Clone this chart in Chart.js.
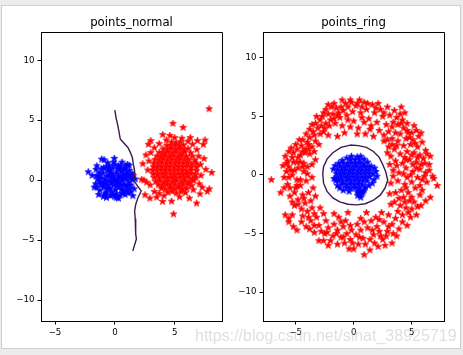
<!DOCTYPE html>
<html><head><meta charset="utf-8">
<script src="https://cdn.jsdelivr.net/npm/chart.js@4.4.0/dist/chart.umd.min.js"></script>
<style>
html,body{margin:0;padding:0;width:463px;height:355px;overflow:hidden;background:#ececec;}
#frame{position:absolute;left:1px;top:5px;width:458px;height:342px;background:#fff;border:1px solid #cfcfcf;}
canvas{position:absolute;top:0;}
#c1{left:0}
#c2{left:232px}
#wm{position:absolute;left:195px;top:327px;font:16px "Liberation Sans",Arial,sans-serif;color:rgba(185,185,185,0.45);white-space:nowrap;pointer-events:none;}
</style></head><body>
<div id="frame"></div>
<canvas id="c1" width="232" height="355"></canvas>
<canvas id="c2" width="231" height="355"></canvas>
<div id="wm">https://blog.csdn.net/sinat_38925719</div>
<script>
const titles = ["points_normal", "points_ring"];
const xTicks = [-5, 0, 5];
const yTicks = [-10, -5, 0, 5, 10];

const normalBlue = [
[0.02,0.05],[-0.31,0.22],[0.28,-0.18],[-0.12,-0.41],[0.45,0.33],[-0.52,-0.08],[0.15,0.61],[-0.25,0.55],[0.62,-0.05],[-0.68,0.35],
[0.35,-0.58],[-0.41,-0.66],[0.05,-0.78],[0.81,0.22],[-0.85,-0.21],[0.55,0.72],[-0.6,0.78],[0.9,-0.45],[-0.95,-0.6],[0.22,0.95],
[-0.18,1.02],[1.05,0.5],[-1.08,0.2],[0.68,-0.92],[-0.72,-0.98],[0.1,-1.12],[1.15,-0.15],[-1.2,-0.32],[0.88,0.95],[-0.92,1.05],
[0.48,1.18],[-0.45,1.2],[1.22,0.82],[-1.3,0.62],[1.25,-0.7],[-1.25,-0.85],[0.42,-1.25],[-0.35,-1.3],[0.85,-1.2],[-0.82,-1.28],
[0.0,1.3],[1.38,0.25],[-1.42,0.05],[0.0,-1.38],[0.3,0.3],[-0.3,-0.25],[0.6,0.1],[-0.6,-0.4],[0.2,-0.45],[-0.1,0.35],
[0.75,-0.4],[-0.8,0.05],[0.4,0.95],[-0.5,0.95],[1.0,0.1],[-1.05,-0.3],[0.55,-0.75],[-0.3,-0.95],[0.95,-0.8],[-1.0,0.6],
[0.7,0.45],[-0.35,0.75],[0.12,-0.2],[-0.15,0.12],[1.1,-0.45],[-0.6,-0.7],
[0.25,0.05],[-0.2,-0.1],[0.5,-0.35],[-0.45,0.45],[0.95,0.6],[-0.9,-0.35],[0.3,1.2],[-0.2,-1.2],[1.2,0.35],[-1.25,-0.1],
[0.75,0.95],[-0.75,-1.1],[0.65,-1.1],[-0.7,1.1],[1.35,-0.4],[-1.35,0.35],[0.15,-1.45],[-0.1,1.5],[1.1,-1.05],[-1.1,0.95],
[-1.5,-0.6],[1.45,0.05],[0.9,1.2],[-0.95,-1.35],[-1.9,0.4],[-1.5,1.2],[1.7,0.1],
[-2.22,0.7],[-1.72,-0.58],[-1.1,1.75],[-0.9,1.7],[-0.05,1.82],[-1.57,0.9],[1.6,-0.72],[1.5,-1.3],[-1.6,-0.3],[-1.55,0.35],
[1.45,0.5],[1.2,1.25],[-1.35,-1.2],[1.05,1.3],[-0.6,1.45],[0.6,1.5],[0.3,-1.5],[-0.7,-1.45],[1.3,-1.0]
];

const normalRed = [
[4.42,-1.02],[4.78,-0.94],[5.13,-1.08],[5.52,-0.97],
[3.88,-0.68],[4.22,-0.74],[4.61,-0.66],[4.97,-0.71],[5.31,-0.63],[5.66,-0.75],[6.02,-0.69],
[3.62,-0.38],[3.97,-0.44],[4.33,-0.36],[4.66,-0.42],[5.02,-0.35],[5.37,-0.46],[5.71,-0.39],[6.08,-0.33],[6.41,-0.45],
[3.41,-0.12],[3.77,-0.06],[4.12,-0.15],[4.44,-0.08],[4.83,-0.11],[5.16,-0.04],[5.52,-0.14],[5.84,-0.07],[6.21,-0.13],[6.57,-0.05],
[3.28,0.22],[3.66,0.17],[4.02,0.25],[4.36,0.18],[4.71,0.23],[5.04,0.16],[5.42,0.24],[5.77,0.19],[6.11,0.26],[6.46,0.15],[6.78,0.21],
[3.19,0.52],[3.56,0.47],[3.91,0.55],[4.24,0.49],[4.62,0.53],[4.97,0.46],[5.31,0.54],[5.66,0.48],[6.01,0.51],[6.37,0.56],[6.72,0.47],
[3.17,0.83],[3.52,0.78],[3.88,0.86],[4.23,0.79],[4.58,0.84],[4.94,0.77],[5.29,0.85],[5.64,0.81],[5.99,0.76],[6.35,0.84],[6.83,0.79],
[3.21,1.12],[3.55,1.07],[3.9,1.15],[4.26,1.08],[4.6,1.13],[4.96,1.06],[5.33,1.14],[5.68,1.09],[6.02,1.16],[6.38,1.07],[6.81,1.12],
[3.26,1.41],[3.61,1.37],[3.95,1.45],[4.31,1.38],[4.66,1.43],[5.01,1.36],[5.36,1.44],[5.71,1.39],[6.07,1.42],[6.42,1.35],[6.79,1.44],
[3.36,1.72],[3.72,1.67],[4.07,1.75],[4.41,1.68],[4.77,1.73],[5.12,1.66],[5.47,1.74],[5.83,1.69],[6.18,1.71],[6.68,1.67],
[3.52,2.02],[3.86,1.97],[4.22,2.05],[4.57,1.98],[4.93,2.03],[5.27,1.96],[5.62,2.04],[5.98,1.99],[6.47,2.01],
[3.71,2.31],[4.06,2.27],[4.41,2.35],[4.76,2.28],[5.11,2.33],[5.46,2.26],[5.82,2.34],[6.33,2.29],
[4.02,2.62],[4.37,2.57],[4.72,2.65],[5.07,2.58],[5.42,2.63],[5.77,2.56],[6.11,2.64],
[4.34,2.91],[4.69,2.87],[5.04,2.95],[5.39,2.88],[5.74,2.93],
[4.72,3.18],[5.1,3.12],[5.48,3.2],
[7.87,5.96],[4.85,4.74],[5.7,4.4],[4.6,3.73],[2.8,3.0],[7.53,3.35],[7.39,2.98],[8.09,0.64],[7.72,-0.94],[7.89,-0.72],
[7.11,-1.14],[6.83,-1.92],[6.22,-1.5],[4.9,-2.82],[4.74,-1.75],[3.99,-1.78],[3.49,-1.42],[2.93,-1.5],[2.52,-1.22],[2.24,0.06],
[2.33,1.37],[2.43,0.0],[2.66,-0.17],[1.45,0.45],[1.55,0.38],
[3.0,2.3],[2.85,1.6],[2.75,0.85],[2.95,-0.4],[3.3,-0.95],[3.7,-1.1],[4.1,-1.3],[5.4,-1.4],[5.9,-1.05],[6.55,-0.8],
[7.05,-0.3],[7.2,0.4],[7.15,1.3],[7.0,2.0],[6.85,2.55],[6.5,3.0],[6.1,3.25],[5.6,3.5],[5.0,3.55],[4.3,3.35],
[3.7,3.05],[3.3,2.7],[6.9,3.3],[6.3,3.55],[4.0,3.8],[7.45,1.8],[7.6,0.9],[3.0,3.3],[2.6,2.1],[7.3,-0.6]
];

const normalBoundary = [
[0.0,5.85],[0.1,5.2],[0.25,4.55],[0.35,4.0],[0.45,3.44],[0.75,3.1],[1.09,2.73],[1.3,2.3],[1.46,1.9],[1.55,1.3],
[1.65,0.78],[1.62,0.35],[1.6,-0.06],[1.9,-0.5],[2.2,-0.9],[1.93,-1.46],[1.75,-2.0],[1.65,-2.57],[1.7,-3.2],[1.75,-3.9],
[1.73,-4.5],[1.8,-4.9],[1.5,-5.9]
];

const ringBlue = [
[-0.3,1.3],[0.1,1.32],[0.5,1.27],
[-0.9,1.02],[-0.55,0.97],[-0.2,1.04],[0.15,0.98],[0.5,1.03],[0.85,0.96],
[-1.2,0.72],[-0.85,0.67],[-0.5,0.74],[-0.15,0.68],[0.2,0.73],[0.55,0.66],[0.9,0.72],[1.2,0.69],
[-1.4,0.42],[-1.05,0.37],[-0.7,0.44],[-0.35,0.38],[0.0,0.43],[0.35,0.36],[0.7,0.41],[1.05,0.38],[1.4,0.44],
[-1.5,0.12],[-1.15,0.07],[-0.8,0.14],[-0.45,0.08],[-0.1,0.13],[0.25,0.06],[0.6,0.11],[0.95,0.08],[1.3,0.14],[1.65,0.09],
[-1.45,-0.18],[-1.1,-0.23],[-0.75,-0.16],[-0.4,-0.22],[-0.05,-0.17],[0.3,-0.24],[0.65,-0.19],[1.0,-0.21],[1.35,-0.16],
[-1.3,-0.48],[-0.95,-0.53],[-0.6,-0.46],[-0.25,-0.52],[0.1,-0.47],[0.45,-0.54],[0.8,-0.49],[1.15,-0.51],
[-1.0,-0.78],[-0.65,-0.83],[-0.3,-0.77],[0.05,-0.82],[0.4,-0.79],[0.75,-0.84],
[-0.6,-1.08],[-0.25,-1.13],[0.1,-1.09],[0.45,-1.12],
[0.3,-1.42],[0.55,-1.38],[0.55,-1.7],
[-1.75,0.5],[-1.7,-0.3],[1.9,0.3],[1.75,-0.4],[0.6,1.6],[-0.2,1.6],[-1.0,1.25],[1.2,1.1],[-1.4,-0.9],[1.3,-0.9],
[-0.9,-1.3],[0.9,-1.25],[2.0,-0.1],
[0.45,-1.55],[0.7,-1.6],[0.6,-1.9],[0.35,-1.75],[0.8,-1.45],[-1.6,0.8],[-1.3,1.0],[1.5,0.75],[1.6,-0.7],[-1.55,-0.5],
[1.8,0.6],[-0.6,1.45],[0.9,1.35],[0.3,1.55],[-1.2,-1.1],[1.0,-1.05],[-0.4,-1.4]
];

const ringRed = [
[3.4,0.4],[3.9,0.2],[4.5,0.6],[5.1,0.3],[5.7,0.5],[6.2,0.2],[6.5,0.9],[4.2,1.0],[4.8,1.3],[5.4,1.1],
[6.0,1.4],[3.6,1.2],[3.2,1.6],[4.0,1.8],[4.6,2.0],[5.2,1.9],[5.7,1.7],[3.5,2.2],[4.3,2.5],[4.9,2.6],
[5.5,2.4],[3.0,2.4],[3.8,2.9],[4.5,3.1],[5.1,3.0],[3.3,3.1],[4.0,3.5],[4.7,3.6],[5.6,3.3],[2.9,3.0],
[3.6,3.6],[4.3,4.0],[5.2,4.2],[5.8,3.6],[6.2,2.1],[5.9,2.8],[6.6,1.6],[2.9,1.9],[3.1,0.9],[4.1,4.4],
[5.1,0.9],[4.4,1.5],[3.7,2.5],
[3.0,3.7],[2.6,3.4],[2.2,3.8],[2.8,4.3],[3.4,4.5],[2.0,4.5],[2.5,5.0],[3.1,5.1],[3.7,4.9],[1.5,4.2],
[1.3,4.8],[1.8,5.3],[2.3,5.6],[1.1,5.6],[1.6,6.0],[0.9,6.2],[0.5,6.4],[0.2,5.9],[0.6,5.3],[0.9,4.5],
[0.4,4.0],[1.0,3.5],[0.3,3.5],[1.7,3.3],[4.1,5.8],[3.5,5.5],[4.2,4.7],[2.9,5.8],[0.0,4.6],[0.7,4.9],
[1.4,3.9],[2.1,6.1],[4.6,4.4],[4.0,5.2],
[-0.2,6.2],[-0.5,5.8],[-1.0,6.4],[-1.5,5.7],[-1.9,5.8],[-2.2,6.0],[-0.9,5.5],[-1.2,4.9],[-1.8,5.2],[-0.5,4.7],
[-2.0,4.7],[-2.4,4.4],[-1.6,4.4],[-0.3,4.1],[-0.8,3.6],[-1.0,4.2],[-2.8,4.2],[-3.1,4.0],[-2.6,3.7],[-3.5,3.7],
[-2.2,3.4],[-3.2,5.0],[-2.6,5.3],[-2.9,4.7],[-3.6,4.3],[-1.4,3.3],[-0.6,5.1],[-1.3,5.3],[-2.4,5.6],[-0.1,5.4],
[-3.8,3.2],[-3.3,2.9],[-4.0,2.8],[-4.5,2.5],[-3.0,2.6],[-4.9,2.2],[-4.2,2.2],[-3.6,2.4],[-5.2,1.9],[-5.6,2.0],
[-4.6,1.7],[-4.2,1.9],[-5.3,1.5],[-3.8,1.8],[-4.9,1.1],[-5.2,1.1],[-4.6,1.1],[-5.7,1.2],[-4.0,0.7],[-4.3,1.0],
[-5.6,0.7],[-5.1,0.4],[-4.3,0.3],[-4.8,0.6],[-5.8,0.3],[-3.6,0.9],[-3.3,1.3],[-4.0,0.1],[-5.3,0.0],[-3.4,2.0],
[-5.9,1.6],[-6.1,0.8],[-4.7,3.0],[-4.1,3.5],
[-7.1,-0.4],[-6.3,-1.5],[-5.7,-0.8],[-5.5,-1.1],[-4.9,-0.4],[-4.6,-0.9],[-5.1,-1.5],[-4.4,-1.7],[-4.8,-2.1],[-5.5,-1.8],
[-3.9,-1.5],[-4.1,-0.5],[-3.6,-0.2],[-5.9,-3.4],[-5.6,-3.7],[-4.2,-2.4],[-3.7,-2.2],[-4.5,-2.9],[-4.0,-3.1],[-3.6,-2.8],
[-5.1,-2.6],[-4.4,-3.5],[-3.4,-3.3],[-5.6,-4.0],[-4.9,-0.9],[-3.5,-1.1],[-6.0,-0.2],[-5.3,-2.3],[-3.3,-1.8],
[-4.9,-4.7],[-4.1,-4.4],[-3.7,-3.9],[-3.2,-3.6],[-3.0,-4.3],[-2.8,-4.8],[-3.4,-4.9],[-3.0,-5.6],[-2.5,-5.0],[-2.2,-4.5],
[-1.8,-5.2],[-2.4,-3.9],[-1.7,-4.2],[-2.0,-5.6],[-1.4,-4.7],[-1.1,-5.3],[-0.9,-4.4],[-0.6,-5.0],[-0.3,-5.5],[-1.4,-5.9],
[-0.8,-5.8],[-0.4,-6.3],[0.0,-6.3],[-0.2,-4.7],[-1.3,-3.6],[-0.5,-3.2],[-2.6,-3.3],[-3.8,-4.6],[-2.2,-6.0],[-0.7,-3.9],
[-1.7,-3.3],[-2.9,-2.8],
[0.3,-4.2],[0.6,-4.7],[0.2,-5.1],[0.8,-5.4],[1.2,-4.5],[1.0,-5.9],[0.9,-6.8],[1.4,-6.4],[1.7,-5.1],[1.5,-3.9],
[2.0,-4.4],[2.3,-5.2],[1.8,-5.8],[2.6,-4.0],[2.9,-4.8],[2.5,-5.5],[3.3,-5.8],[3.3,-4.2],[3.0,-3.4],[3.6,-3.7],
[2.4,-3.2],[3.9,-4.6],[3.7,-5.2],[1.1,-3.2],[0.6,-3.7],[1.9,-3.6],[2.1,-6.1],[4.2,-4.0],[0.4,-5.9],[2.7,-6.0],
[3.8,-3.1],[4.2,-3.4],[4.6,-4.3],[5.4,-3.4],[4.0,-2.6],[4.5,-2.8],[5.0,-2.9],[4.8,-2.2],[3.5,-2.3],[3.2,-2.5],
[5.2,-2.3],[4.3,-1.9],[5.7,-1.7],[3.6,-1.5],[4.1,-1.3],[4.7,-1.5],[5.3,-1.1],[6.6,-1.9],[3.2,-0.7],[3.8,-0.5],
[4.4,-0.8],[5.0,-0.6],[5.7,-0.9],[6.3,-0.6],[6.9,-0.3],[7.2,-0.9],[3.4,-0.1],[4.6,-0.2],[5.5,-0.2],[6.1,-0.1],
[4.9,-3.6],[5.8,-2.6],[3.1,-1.6],
[-4.4,3.0],[-3.9,2.6],[-3.4,3.4],[-2.9,3.5],[-2.5,4.0],[-2.1,4.2],[-1.7,4.8],[-1.4,5.1],[-2.2,5.2],[-1.1,5.8],
[-1.7,6.1],[-2.7,5.0],[-3.3,4.4],[-3.8,3.9],[-4.4,2.0],[-5.0,2.6],[-5.4,2.3],[-4.8,1.5],[-3.9,2.2],
[-0.3,6.4],[0.3,6.1],[0.7,5.8],[1.2,6.1],[1.9,5.7],[2.6,5.3],[-0.7,6.1],
[3.3,4.1],[3.8,4.3],[4.4,5.3],[4.6,3.8],[5.0,3.6],[5.4,3.8],[5.3,2.7],[4.8,3.2],[3.3,2.6],[2.6,2.9],
[4.5,1.3],[5.0,1.7],[5.5,1.5],[6.1,1.0],[5.8,0.9],[5.4,0.6],[4.9,0.0],[5.9,-0.4],[6.5,0.4],[6.8,-0.1],
[4.3,0.1],[3.7,0.8],[6.3,1.8],
[4.4,-2.3],[5.0,-1.9],[5.5,-2.7],[4.7,-3.2],[3.9,-2.0],[4.5,-1.1],[5.9,-1.3],[6.2,-2.2],
[1.6,-4.7],[2.2,-4.8],[2.8,-5.2],[3.4,-5.0],[1.4,-5.5],[0.5,-5.3],[-0.1,-5.8],[-0.9,-5.3],[-1.5,-5.0],[-2.6,-5.6],
[-2.3,-4.9],[-1.1,-4.0],[-0.3,-4.3],[0.9,-4.0],[2.2,-3.8],[3.0,-4.4],
[-4.3,-2.0],[-4.8,-2.5],[-5.3,-3.4],[-3.9,-3.6],[-4.5,-4.0],[-3.4,-4.3],[-5.2,-4.4],
[-5.0,-1.1],[-5.4,0.4],[-6.0,-1.1],[-4.6,-0.4],[-5.6,-0.2],[-4.4,0.7],[-5.8,1.0]
];

const ringBoundary = [
[-0.3,2.55],[0.4,2.5],[1.1,2.35],[1.7,2.0],[2.2,1.5],[2.5,0.9],[2.75,0.3],[2.93,-0.45],[2.7,-1.1],[2.3,-1.7],
[1.7,-2.15],[1.0,-2.45],[0.26,-2.55],[-0.5,-2.5],[-1.2,-2.3],[-1.8,-1.95],[-2.3,-1.4],[-2.6,-0.7],[-2.67,0.1],[-2.6,0.7],
[-2.3,1.35],[-1.8,1.9],[-1.1,2.35],[-0.3,2.55]
];

function makeStar(color){
  const c = document.createElement('canvas');
  c.width = 9; c.height = 9;
  const g = c.getContext('2d');
  const R = 3.6, r = 1.45, cx = 4.5, cy = 4.6;
  g.beginPath();
  for (let i = 0; i < 10; i++) {
    const a = -Math.PI/2 + i*Math.PI/5;
    const rr = i % 2 ? r : R;
    g.lineTo(cx + rr*Math.cos(a), cy + rr*Math.sin(a));
  }
  g.closePath();
  g.fillStyle = color; g.fill();
  g.strokeStyle = color; g.lineWidth = 0.7; g.stroke();
  return c;
}
const redStar = makeStar('#ff0000');
const blueStar = makeStar('#0000ff');

const fmt = v => (v < 0 ? '\u2212' + Math.abs(v) : String(v));
const toXY = arr => arr.map(p => ({x: p[0], y: p[1]}));

const boxPlugin = {
  id: 'box',
  afterDraw(chart){
    const a = chart.chartArea, ctx = chart.ctx;
    const al = p => Math.round(p - 0.5) + 0.5;
    ctx.save();
    ctx.strokeStyle = '#000'; ctx.lineWidth = 1;
    ctx.beginPath();
    ctx.moveTo(al(a.left), al(a.top)); ctx.lineTo(al(a.right), al(a.top)); ctx.lineTo(al(a.right), al(a.bottom));
    ctx.stroke();
    ctx.restore();
  }
};

function axis(min, max, ticks, fit){
  return {
    type: 'linear', min: min, max: max,
    afterBuildTicks: s => { s.ticks = ticks.map(v => ({value: v})); },
    afterFit: fit,
    grid: {drawOnChartArea: false, drawTicks: true, tickLength: 3.5, tickColor: '#000', tickWidth: 1},
    border: {display: true, color: '#000', width: 1},
    ticks: {color: '#000', font: {family: 'DejaVu Sans', size: 8.6}, padding: 3, callback: fmt, maxRotation: 0, autoSkip: false, includeBounds: false}
  };
}

function build(id, title, blue, red, boundary, xr, yr, yw, padR){
  new Chart(document.getElementById(id), {
    type: 'scatter',
    data: {datasets: [
      {data: toXY(boundary), showLine: true, borderColor: '#3b1a52', borderWidth: 1.4, pointRadius: 0, pointHoverRadius: 0, fill: false, tension: 0},
      {data: toXY(blue), pointStyle: blueStar, pointRadius: 3.5, borderWidth: 0},
      {data: toXY(red), pointStyle: redStar, pointRadius: 3.5, borderWidth: 0}
    ]},
    options: {
      responsive: false, animation: false, devicePixelRatio: 1,
      layout: {padding: {left: 0, right: padR, top: 0, bottom: 14}},
      plugins: {
        legend: {display: false}, tooltip: {enabled: false},
        title: {display: true, text: title, fullSize: false, color: '#000',
          font: {family: 'DejaVu Sans', size: 11.7, weight: 'normal', lineHeight: 1.2},
          padding: {top: 15.7, bottom: 2.26}}
      },
      scales: {
        x: axis(xr[0], xr[1], xTicks, s => { s.height = 20; }),
        y: axis(yr[0], yr[1], yTicks, s => { s.width = yw; })
      }
    },
    plugins: [boxPlugin]
  });
}

build('c1', titles[0], normalBlue, normalRed, normalBoundary, [-6.17, 8.95], [-11.75, 12.36], 41, 10);
build('c2', titles[1], ringBlue, ringRed, ringBoundary, [-7.82, 7.78], [-12.45, 12.19], 31, 19);
</script>
</body></html>
